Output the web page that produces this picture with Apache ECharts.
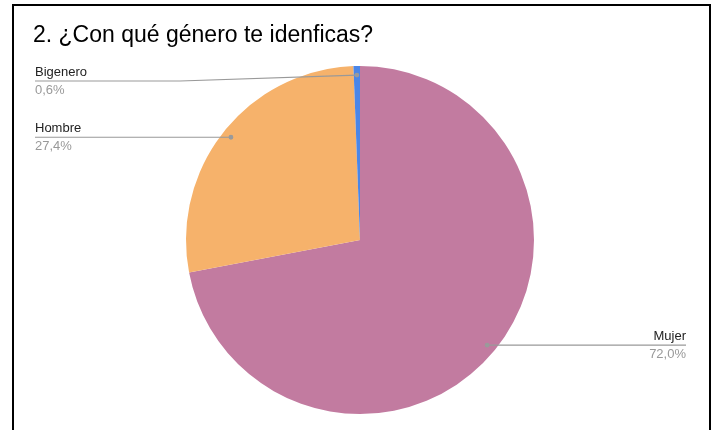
<!DOCTYPE html>
<html>
<head>
<meta charset="utf-8">
<script src="https://cdn.jsdelivr.net/npm/echarts@6/dist/echarts.min.js"></script>
<style>
  html, body { margin: 0; padding: 0; background: #fff; }
  #wrap { position: relative; width: 716px; height: 430px; overflow: hidden; }
  #chart { position: absolute; left: 0; top: 0; width: 716px; height: 430px; }
  #frame { position: absolute; left: 12px; top: 4px; width: 699px; height: 520px;
           box-sizing: border-box; border: 2px solid #000; pointer-events: none; }
</style>
</head>
<body>
<div id="wrap">
  <div id="chart"></div>
  <div id="frame"></div>
</div>
<script>
const titleText = '2. ¿Con qué género te idenficas?';
const categories = ['Mujer', 'Hombre', 'Bigenero'];
const values = [72.0, 27.4, 0.6];
const percentLabels = ['72,0%', '27,4%', '0,6%'];
const colors = ['#c27ba0', '#f6b26b', '#4a86e8'];

const FONT = '"Liberation Sans", Arial, Helvetica, sans-serif';
const leftEdgeX = 35, rightEdgeX = 686, minLineY = 81, elbowLeftX = 180, elbowRightX = 540;

const chart = echarts.init(document.getElementById('chart'), null, { renderer: 'canvas' });

function dotPoint(i) {
  const lay = chart.getModel().getSeriesByIndex(0).getData().getItemLayout(i);
  const mid = (lay.startAngle + lay.endAngle) / 2;
  const r = lay.r * 0.948;
  return [lay.cx + r * Math.cos(mid), lay.cy + r * Math.sin(mid), lay.cx];
}

function guide(i) {
  const d = dotPoint(i);
  const left = d[0] < d[2];
  const lineY = Math.max(d[1], minLineY);
  const endX = left ? leftEdgeX : rightEdgeX;
  const elbowX = left ? Math.min(d[0], elbowLeftX) : Math.max(d[0], elbowRightX);
  return { left, lineY, endX, points: [[d[0], d[1]], [elbowX, lineY], [endX, lineY]], dot: [d[0], d[1]] };
}

chart.setOption({
  animation: false,
  backgroundColor: 'transparent',
  title: {
    text: titleText,
    left: 28,
    top: 19,
    textStyle: { fontFamily: FONT, fontSize: 23, fontWeight: 'normal', color: '#000' }
  },
  series: [{
    type: 'pie',
    center: [360, 240],
    radius: 174,
    startAngle: 90,
    clockwise: true,
    silent: true,
    data: categories.map((c, i) => ({
      name: c,
      value: values[i],
      itemStyle: { color: colors[i] },
      label: { align: i === 0 ? 'right' : 'left' }
    })),
    label: {
      show: true,
      position: 'outside',
      formatter: p => '{n|' + p.name + '}\n{p|' + percentLabels[p.dataIndex] + '}',
      rich: {
        n: { fontFamily: FONT, fontSize: 13, color: '#222', lineHeight: 18 },
        p: { fontFamily: FONT, fontSize: 13, color: '#999', lineHeight: 18 }
      }
    },
    labelLine: { show: false },
    labelLayout: function (params) {
      const g = guide(params.dataIndex);
      return { x: g.endX, y: g.lineY, align: g.left ? 'left' : 'right', verticalAlign: 'middle' };
    }
  }]
});

const extras = [];
categories.forEach((c, i) => {
  const g = guide(i);
  extras.push({ type: 'polyline', z: 100, silent: true, shape: { points: g.points },
                style: { stroke: '#999', lineWidth: 1.2, fill: null } });
  extras.push({ type: 'circle', z: 101, silent: true, shape: { cx: g.dot[0], cy: g.dot[1], r: 2.4 },
                style: { fill: '#9a9a9a' } });
});
chart.setOption({ graphic: extras });
</script>
</body>
</html>
